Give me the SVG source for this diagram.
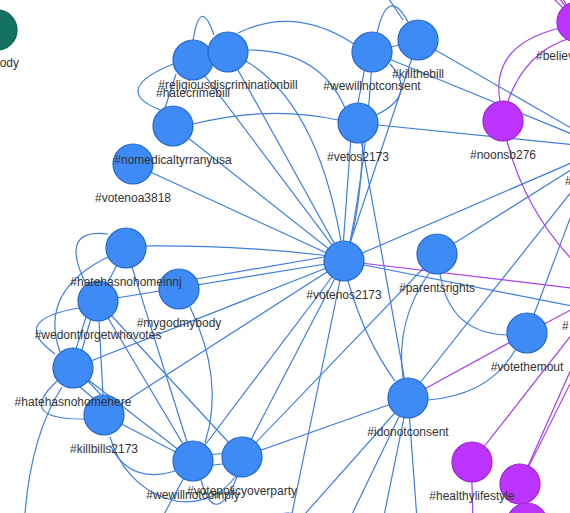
<svg xmlns="http://www.w3.org/2000/svg" width="570" height="513" viewBox="0 0 570 513">
<style>
.e{fill:none;stroke:#3f7fdf;stroke-width:1.2}
.p{fill:none;stroke:#a83ff0;stroke-width:1.2}
.b{fill:#3e8bf6;stroke:#2265c9;stroke-width:1.2}
.v{fill:#bd33ff;stroke:#9a24d4;stroke-width:1.2}
.t{fill:#137262;stroke:#0f5e50;stroke-width:1.2}
text{font-family:"Liberation Sans",Arial,sans-serif;font-size:12px;fill:#333;text-anchor:middle}
</style>
<rect width="570" height="513" fill="#fff"/>
<g id="edges">
<path class="e" d="M193,41 Q200,-5 214,35"/>
<path class="e" d="M238,33 Q295,5 354,44"/>
<path class="e" d="M248,50 Q320,50 345,108"/>
<path class="e" d="M173,64 Q110,90 160,110"/>
<path class="e" d="M176,74 L165,108"/>
<path class="e" d="M193,124 Q270,105 338,120"/>
<path class="e" d="M173,126 L344,261"/>
<path class="e" d="M133,164 L344,261"/>
<path class="e" d="M193,60 L344,261"/>
<path class="e" d="M228,52 L344,261"/>
<path class="e" d="M228,52 Q320,90 344,261"/>
<path class="e" d="M377,33 Q388,-15 408,22"/>
<path class="e" d="M372,52 L418,40"/>
<path class="e" d="M403,20 L376,-20"/>
<path class="e" d="M368,52 L354,123"/>
<path class="e" d="M390,64 Q418,95 376,115"/>
<path class="e" d="M372,62 Q366,160 350,242"/>
<path class="e" d="M372,52 L606,148"/>
<path class="e" d="M418,40 L606,148"/>
<path class="e" d="M418,40 L344,261"/>
<path class="e" d="M352,123 L342,261"/>
<path class="e" d="M363,130 Q362,200 350,243"/>
<path class="e" d="M358,123 L408,398"/>
<path class="e" d="M358,123 L606,148"/>
<path class="e" d="M344,261 L606,148"/>
<path class="e" d="M348,281 Q365,340 395,381"/>
<path class="e" d="M140,246 Q240,245 330,256"/>
<path class="e" d="M190,280 L330,256"/>
<path class="e" d="M98,301 L344,261"/>
<path class="e" d="M73,368 L344,261"/>
<path class="e" d="M104,415 L344,261"/>
<path class="e" d="M193,461 L344,261"/>
<path class="e" d="M242,457 L344,261"/>
<path class="e" d="M288,533 L344,261"/>
<path class="e" d="M344,261 L612,314"/>
<path class="e" d="M437,254 L606,148"/>
<path class="e" d="M440,274 Q450,335 510,335"/>
<path class="e" d="M430,272 Q395,320 403,378"/>
<path class="e" d="M408,398 L606,148"/>
<path class="e" d="M428,400 Q490,395 515,350"/>
<path class="e" d="M408,398 L242,457"/>
<path class="e" d="M408,398 L288,533"/>
<path class="e" d="M408,398 L330,560"/>
<path class="e" d="M408,398 L375,560"/>
<path class="e" d="M408,398 L420,560"/>
<path class="e" d="M527,333 L592,160"/>
<path class="e" d="M126,248 L98,301"/>
<path class="e" d="M108,234 Q58,228 86,284"/>
<path class="e" d="M110,256 Q38,290 60,352"/>
<path class="e" d="M126,248 L193,461"/>
<path class="e" d="M190,307 Q225,380 205,443"/>
<path class="e" d="M79,308 Q8,320 55,354"/>
<path class="e" d="M86,317 L76,349"/>
<path class="e" d="M91,318 L82,350"/>
<path class="e" d="M98,301 L104,415"/>
<path class="e" d="M98,301 L193,461"/>
<path class="e" d="M98,301 L242,457"/>
<path class="e" d="M79,386 L94,399"/>
<path class="e" d="M88,381 L101,395"/>
<path class="e" d="M57,381 Q15,420 86,419"/>
<path class="e" d="M62,387 Q28,440 24,530"/>
<path class="e" d="M73,368 L193,461"/>
<path class="e" d="M104,415 L193,461"/>
<path class="e" d="M110,445 Q130,485 175,471"/>
<path class="e" d="M110,437 C128,500 200,525 236,476"/>
<path class="e" d="M193,456 L242,452"/>
<path class="e" d="M196,467 L240,462"/>
<path class="e" d="M201,480 Q215,530 237,477"/>
<path class="e" d="M193,461 L150,540"/>
<path class="e" d="M242,457 L437,254"/>
<path class="p" d="M577,22 L535,-20"/>
<path class="p" d="M577,22 L542,-25"/>
<path class="p" d="M577,22 L550,-22"/>
<path class="p" d="M500,101 Q490,45 560,28"/>
<path class="p" d="M508,101 Q525,52 570,38"/>
<path class="p" d="M507,141 Q530,230 605,290"/>
<path class="p" d="M344,261 L605,292"/>
<path class="p" d="M527,333 L605,292"/>
<path class="p" d="M408,398 L527,333"/>
<path class="p" d="M472,462 L605,292"/>
<path class="p" d="M520,484 L602,300"/>
<path class="p" d="M520,484 L614,296"/>
<path class="p" d="M470,462 Q474,495 472,530"/>
</g>
<g id="n-mybody"><circle class="t" cx="-3" cy="30" r="20"/><text x="19" y="67" style="text-anchor:end">#mybody</text></g>
<g id="n-votenoa3818"><circle class="b" cx="133" cy="164" r="20"/><text x="133" y="202">#votenoa3818</text></g>
<g id="n-nomedicaltyrranyusa"><circle class="b" cx="173" cy="126" r="20"/><text x="173" y="164">#nomedicaltyrranyusa</text></g>
<g id="n-hatecrimebill"><circle class="b" cx="193" cy="60" r="20"/><text x="193" y="97">#hatecrimebill</text></g>
<g id="n-religiousdiscriminationbill"><circle class="b" cx="228" cy="52" r="20"/><text x="228" y="89">#religiousdiscriminationbill</text></g>
<g id="n-wewillnotconsent"><circle class="b" cx="372" cy="52" r="20"/><text x="372" y="90">#wewillnotconsent</text></g>
<g id="n-killthebill"><circle class="b" cx="418" cy="40" r="20"/><text x="418" y="78">#killthebill</text></g>
<g id="n-vetos2173"><circle class="b" cx="358" cy="123" r="20"/><text x="358" y="161">#vetos2173</text></g>
<g id="n-votenos2173"><circle class="b" cx="344" cy="261" r="20"/><text x="344" y="299">#votenos2173</text></g>
<g id="n-parentsrights"><circle class="b" cx="437" cy="254" r="20"/><text x="437" y="292">#parentsrights</text></g>
<g id="n-votethemout"><circle class="b" cx="527" cy="333" r="20"/><text x="527" y="371">#votethemout</text></g>
<g id="n-idonotconsent"><circle class="b" cx="408" cy="398" r="20"/><text x="408" y="436">#idonotconsent</text></g>
<g id="n-mygodmybody"><circle class="b" cx="179" cy="289" r="20"/><text x="179" y="327">#mygodmybody</text></g>
<g id="n-wedontforgetwhovotes"><circle class="b" cx="98" cy="301" r="20"/><text x="98" y="339">#wedontforgetwhovotes</text></g>
<g id="n-hatehasnohomeinnj"><circle class="b" cx="126" cy="248" r="20"/><text x="126" y="286">#hatehasnohomeinnj</text></g>
<g id="n-killbills2173"><circle class="b" cx="104" cy="415" r="20"/><text x="104" y="453">#killbills2173</text></g>
<g id="n-hatehasnohomehere"><circle class="b" cx="73" cy="368" r="20"/><text x="73" y="406">#hatehasnohomehere</text></g>
<g id="n-wewillnotcomply"><circle class="b" cx="193" cy="461" r="20"/><text x="193" y="499">#wewillnotcomply</text></g>
<g id="n-votepolicyoverparty"><circle class="b" cx="242" cy="457" r="20"/><text x="242" y="495">#votepolicyoverparty</text></g>
<g id="n-bottom"><circle class="b" cx="288" cy="533" r="20"/></g>
<g id="n-hub"><circle class="b" cx="606" cy="148" r="20"/><text x="565" y="185" style="text-anchor:start">#</text></g>
<g id="n-right"><circle class="v" cx="605" cy="292" r="20"/><text x="562" y="330" style="text-anchor:start">#</text></g>
<g id="n-believ"><circle class="v" cx="577" cy="22" r="20"/><text x="536" y="60" style="text-anchor:start">#believ</text></g>
<g id="n-noonsb276"><circle class="v" cx="503" cy="121" r="20"/><text x="503" y="159">#noonsb276</text></g>
<g id="n-purple2"><circle class="v" cx="520" cy="484" r="20"/></g>
<g id="n-purple3"><circle class="v" cx="527" cy="523" r="20"/></g>
<g id="n-healthylifestyle"><circle class="v" cx="472" cy="462" r="20"/><text x="472" y="500">#healthylifestyle</text></g>
</svg>
